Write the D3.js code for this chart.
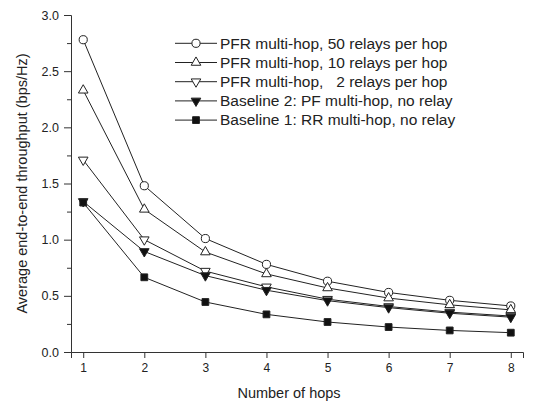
<!DOCTYPE html>
<html>
<head>
<meta charset="utf-8">
<script src="https://cdn.jsdelivr.net/npm/d3@7"></script>
<style>
  body { margin: 0; background: #fff; }
  svg { font-family: "Liberation Sans", Arial, sans-serif; }
  .legend text { white-space: pre; }
</style>
</head>
<body>
<div id="chart"></div>
<script>
// Data
const hops = [1, 2, 3, 4, 5, 6, 7, 8];
const relays50 = [2.78, 1.48, 1.01, 0.78, 0.63, 0.53, 0.46, 0.41];
const relays10 = [2.33, 1.27, 0.89, 0.695, 0.57, 0.48, 0.42, 0.375];
const relays2 = [1.71, 1.0, 0.72, 0.58, 0.47, 0.405, 0.355, 0.32];
const baseline2 = [1.34, 0.895, 0.68, 0.55, 0.457, 0.395, 0.345, 0.31];
const baseline1 = [1.33, 0.665, 0.445, 0.335, 0.267, 0.222, 0.192, 0.172];
const yTicks = [0, 0.5, 1.0, 1.5, 2.0, 2.5, 3.0];
const seriesNames = [
  "PFR multi-hop, 50 relays per hop",
  "PFR multi-hop, 10 relays per hop",
  "PFR multi-hop,   2 relays per hop",
  "Baseline 2: PF multi-hop, no relay",
  "Baseline 1: RR multi-hop, no relay",
];

const series = [
  { name: seriesNames[0], values: relays50, shape: d3.symbolCircle, size: 52, rot: 0, fill: "#fff" },
  { name: seriesNames[1], values: relays10, shape: d3.symbolTriangle, size: 40, rot: 0, fill: "#fff" },
  { name: seriesNames[2], values: relays2, shape: d3.symbolTriangle, size: 40, rot: 180, fill: "#fff" },
  { name: seriesNames[3], values: baseline2, shape: d3.symbolTriangle, size: 40, rot: 180, fill: "#111" },
  { name: seriesNames[4], values: baseline1, shape: d3.symbolSquare, size: 46, rot: 0, fill: "#111" },
];

const width = 533;
const height = 402;
const margin = { top: 15, right: 10, bottom: 50, left: 71 };

const svg = d3
  .select("#chart")
  .append("svg")
  .attr("width", width)
  .attr("height", height);

const x = d3.scaleLinear().domain([0.8, 8.2]).range([margin.left, width - margin.right]);
const y = d3.scaleLinear().domain([0, 3]).range([height - margin.bottom, margin.top]);

// x axis
const xAxis = svg
  .append("g")
  .attr("transform", `translate(0,${y(0)})`)
  .call(d3.axisBottom(x).tickValues(hops).tickSize(6).tickPadding(5).tickFormat(d3.format("d")));
xAxis.select(".domain").attr("stroke", "#333");
xAxis.selectAll(".tick line").attr("stroke", "#333");
xAxis.selectAll("text").style("font-size", "12px").attr("fill", "#222");

// y axis with minor ticks
const yMinor = svg
  .append("g")
  .attr("transform", `translate(${margin.left},0)`)
  .call(d3.axisLeft(y).tickValues(d3.range(0.25, 3, 0.5)).tickSize(4).tickFormat(""));
yMinor.select(".domain").remove();
yMinor.selectAll(".tick line").attr("stroke", "#333");

const yAxis = svg
  .append("g")
  .attr("transform", `translate(${margin.left},0)`)
  .call(d3.axisLeft(y).tickValues(yTicks).tickSize(7).tickPadding(5).tickFormat(d3.format(".1f")));
yAxis.select(".domain").attr("stroke", "#333");
yAxis.selectAll(".tick line").attr("stroke", "#333");
yAxis.selectAll("text").style("font-size", "12.5px").attr("fill", "#222");

// axis titles
svg
  .append("text")
  .attr("transform", `translate(27,${(y(0) + y(3)) / 2}) rotate(-90)`)
  .attr("text-anchor", "middle")
  .style("font-size", "14.5px")
  .attr("fill", "#222")
  .text("Average end-to-end throughput (bps/Hz)");

svg
  .append("text")
  .attr("x", 289)
  .attr("y", 398)
  .attr("text-anchor", "middle")
  .style("font-size", "14.5px")
  .attr("fill", "#222")
  .text("Number of hops");

// lines and markers
const line = d3
  .line()
  .x((d, i) => x(hops[i]))
  .y((d) => y(d));

series.forEach((s) => {
  svg
    .append("path")
    .datum(s.values)
    .attr("fill", "none")
    .attr("stroke", "#222")
    .attr("stroke-width", 1)
    .attr("d", line);
});

series.forEach((s) => {
  svg
    .selectAll(null)
    .data(s.values)
    .enter()
    .append("path")
    .attr("d", d3.symbol().type(s.shape).size(s.size))
    .attr("transform", (d, i) => `translate(${x(hops[i])},${y(d)}) rotate(${s.rot})`)
    .attr("fill", s.fill)
    .attr("stroke", "#222")
    .attr("stroke-width", 1);
});

// legend
const legend = svg.append("g").attr("class", "legend");
series.forEach((s, i) => {
  const ly = 43.3 + i * 19.2;
  legend
    .append("line")
    .attr("x1", 175)
    .attr("x2", 217)
    .attr("y1", ly)
    .attr("y2", ly)
    .attr("stroke", "#222")
    .attr("stroke-width", 1);
  legend
    .append("path")
    .attr("d", d3.symbol().type(s.shape).size(s.size))
    .attr("transform", `translate(196,${ly}) rotate(${s.rot})`)
    .attr("fill", s.fill)
    .attr("stroke", "#222")
    .attr("stroke-width", 1);
  legend
    .append("text")
    .attr("x", 220)
    .attr("y", ly + 5.3)
    .style("font-size", "15.5px")
    .attr("fill", "#222")
    .text(s.name);
});
</script>
</body>
</html>
